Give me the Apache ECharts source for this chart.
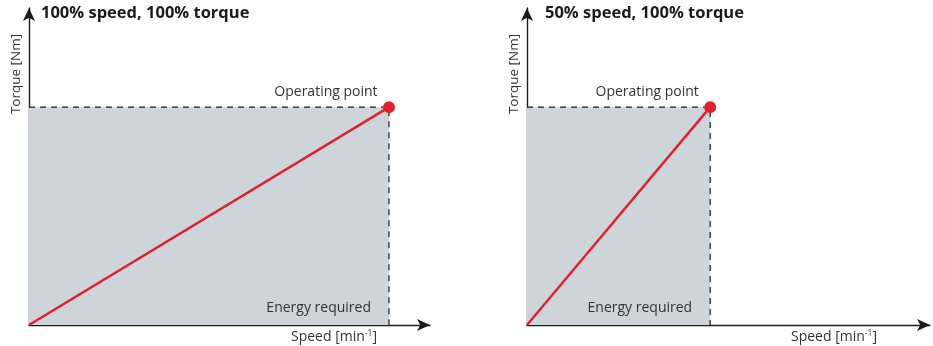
<!DOCTYPE html>
<html><head><meta charset="utf-8">
<script src="https://cdn.jsdelivr.net/npm/echarts@6/dist/echarts.min.js"></script>
<style>html,body{margin:0;padding:0;background:#fff}#c{width:933px;height:346px}</style>
</head><body><div id="c"></div>
<script>
const panelTitles = ['100% speed, 100% torque', '50% speed, 100% torque'];
const opSpeed = [100, 50];       // operating-point speed (% of rated)
const opTorque = [100, 100];     // operating-point torque (%)
const xMax = [111.4, 110];
const yMax = 145.5;
const yLabel = 'Torque [Nm]';
const opLabel = 'Operating point';
const areaLabel = 'Energy required';

const FONT = '"Open Sans", sans-serif';
const grids = [
  {left: 29, top: 8, width: 401, height: 317},
  {left: 527, top: 8, width: 403, height: 317}
];
const titleLeft = [41, 545];
const chart = echarts.init(document.getElementById('c'));
const xAxes = [], yAxes = [], series = [], graphic = [];
for (let i = 0; i < 2; i++) {
  const axisLine = {show: true, symbol: ['none', 'arrow'], symbolSize: [9, 13], symbolOffset: [0, 0],
    lineStyle: {color: '#1a1a1a', width: 1.4}};
  xAxes.push({gridIndex: i, type: 'value', min: 0, max: xMax[i], axisLine,
    axisTick: {show: false}, axisLabel: {show: false}, splitLine: {show: false},
    name: '{t|Speed [min}{s|-1}{t|]}', nameLocation: 'end', nameGap: 0,
    nameTextStyle: {align: 'right', verticalAlign: 'top', padding: [4, 53, 0, 0],
      rich: {t: {fontFamily: FONT, fontSize: 14, color: '#333'}, s: {fontFamily: FONT, fontSize: 8.5, color: '#333', verticalAlign: 'top', padding: [0, 0, 8, 0]}}}});
  yAxes.push({gridIndex: i, type: 'value', min: 0, max: yMax, axisLine,
    axisTick: {show: false}, axisLabel: {show: false}, splitLine: {show: false}});
  const s = opSpeed[i], t = opTorque[i];
  series.push({type: 'line', xAxisIndex: i, yAxisIndex: i, data: [[0, t], [s, t], [s, 0]],
    symbol: 'none', silent: true, lineStyle: {color: '#1a1a1a', width: 1.2, type: [6, 5]}, z: 3,
    markArea: {silent: true, itemStyle: {color: '#cdd4da'},
      label: {show: true, position: 'insideBottomRight', distance: 0, padding: [0, 18, 10, 0],
        fontFamily: FONT, fontSize: 14, color: '#333', formatter: areaLabel},
      data: [[{coord: [0, 0]}, {coord: [s, t]}]]}});
  series.push({type: 'line', xAxisIndex: i, yAxisIndex: i, data: [[0, 0], [s, t]],
    symbol: (v, p) => p.dataIndex === 1 ? 'circle' : 'none', symbolSize: 12, showAllSymbol: true,
    itemStyle: {color: '#e31e2d'}, lineStyle: {color: '#e31e2d', width: 2.4}, z: 5,
    label: {show: true, position: 'top', distance: 0,
      formatter: p => p.dataIndex === 1 ? opLabel : '', offset: [-63, -2],
      fontFamily: FONT, fontSize: 14, color: '#333'}});
  graphic.push({type: 'text', left: titleLeft[i], top: 5,
    style: {text: panelTitles[i], font: 'bold 16.5px ' + FONT, fill: '#1a1a1a'}});
  graphic.push({type: 'text', x: grids[i].left - 13, y: 74, rotation: Math.PI / 2,
    style: {text: yLabel, font: '13.5px ' + FONT, fill: '#333', align: 'center', verticalAlign: 'middle'}});
}
chart.setOption({animation: false, grid: grids, xAxis: xAxes, yAxis: yAxes, series, graphic});
</script></body></html>
